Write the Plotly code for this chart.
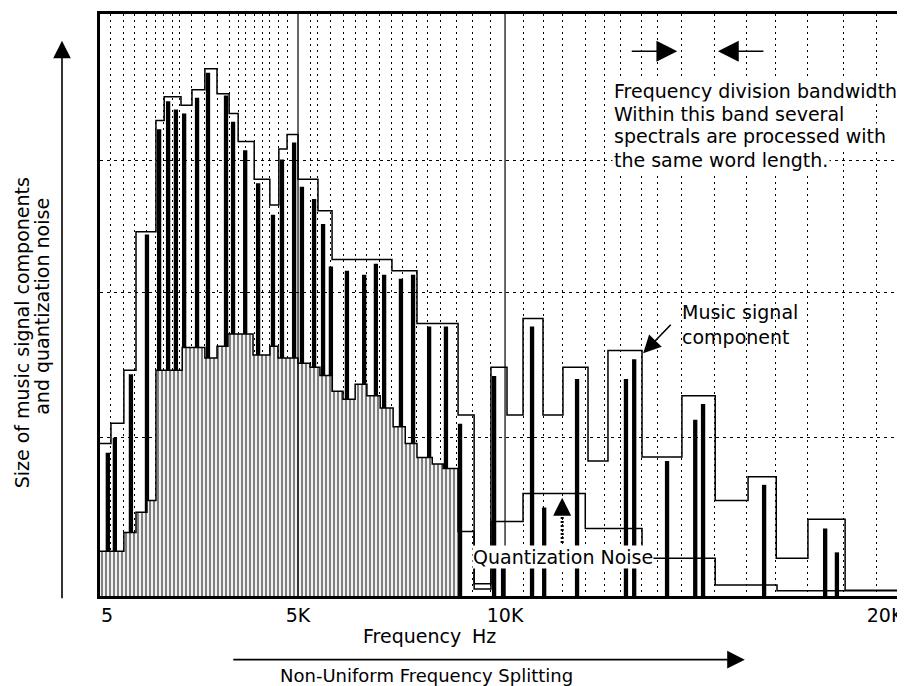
import plotly.graph_objects as go

# ---------------- data (frequency axis in kHz-like schematic units, size 0..100) -------------
env_edges = [0, 0.28, 0.61, 0.92, 1.43, 1.64, 2.07, 2.35, 2.68, 2.99, 3.30, 3.53, 3.94, 4.34,
             4.57, 4.78, 5.06, 5.57, 5.93, 7.46, 8.10, 9.15, 9.56, 9.99, 10.40, 10.81, 11.32,
             11.83, 12.47, 12.98, 13.85, 14.87, 15.72, 16.56, 17.28, 18.09, 19.04, 20.57]
env_levels = [26.2, 29.7, 38.8, 62.6, 81.7, 85.8, 84.3, 87.0, 90.6, 86.3, 82.9, 78.1, 71.6,
              67.2, 76.8, 79.3, 71.6, 66.2, 57.8, 55.9, 46.8, 31.1, 2.1, 39.3, 31.1, 47.7,
              31.1, 39.3, 23.2, 42.2, 23.9, 34.4, 16.4, 20.5, 6.5, 13.2, 1.0]

noise_edges = [0, 0.61, 0.92, 1.20, 1.43, 2.10, 2.68, 2.99, 3.27, 3.91, 4.34, 4.55, 5.06, 5.37,
               5.62, 5.93, 6.21, 6.52, 6.82, 7.16, 7.49, 7.80, 8.10, 8.49, 8.77, 9.15, 9.56,
               9.99, 10.81, 12.40, 13.85, 15.72, 17.30, 20.57]
noise_levels = [7.7, 10.9, 14.4, 16.4, 38.8, 42.7, 40.9, 42.9, 45.0, 41.4, 42.9, 40.9, 40.0,
                39.3, 37.9, 35.2, 33.8, 36.4, 34.4, 32.3, 29.1, 26.2, 23.8, 22.7, 21.9, 11.1,
                1.2, 12.8, 17.6, 11.6, 6.5, 1.9, 0.9]
hatched_bands = 25  # noise bands drawn with dense hatching (low-frequency region)

comp_freq = [0.13, 0.20, 0.38, 0.79, 1.20, 1.51, 1.74, 1.94, 2.15, 2.48, 2.76, 3.02, 3.22,
             3.40, 3.71, 4.04, 4.42, 4.65, 4.96, 5.16, 5.47, 5.70, 5.90, 6.11, 6.31, 6.75,
             7.05, 7.26, 7.69, 8.00, 8.23, 8.41, 8.64, 8.84, 9.20, 10.07, 10.30, 11.04, 11.35,
             12.19, 13.44, 13.65, 14.49, 15.21, 15.41, 16.97, 18.53, 18.83]
comp_size = [7.7, 24.6, 27.2, 38.1, 62.1, 80.2, 85.0, 83.6, 82.9, 85.6, 89.9, 22.6, 86.0,
             81.5, 76.6, 70.9, 65.5, 75.0, 77.9, 70.3, 68.2, 63.9, 56.6, 24.6, 55.9, 55.2,
             57.1, 55.2, 54.5, 55.2, 14.5, 46.3, 18.5, 46.3, 29.6, 37.8, 5.0, 46.3, 15.2,
             37.3, 37.3, 40.7, 23.2, 30.3, 33.0, 19.1, 11.6, 7.5]

grid_freq = [0.26, 0.59, 0.89, 1.20, 1.43, 1.61, 1.84, 2.04, 2.35, 2.68, 2.99, 3.30, 3.53, 3.71,
             3.94, 4.14, 4.34, 4.57, 4.78, 5.37, 5.57, 5.90, 6.21, 6.52, 6.82, 7.13, 7.46, 7.74,
             8.08, 8.38, 8.69, 9.12, 9.53, 9.97, 10.81, 11.32, 11.83, 12.40, 12.88, 13.29,
             13.83, 14.24, 14.85, 15.69, 16.51, 17.25, 18.09, 18.99, 19.83]
grid_size = [27.2, 52.1, 74.9]

tick_freq = [0.18, 5.06, 10.35, 20.06]
tick_text = ["5", "5K", "10K", "20K"]
solid_marks = [5.06, 10.35]

note_lines = ["Frequency division bandwidth", "Within this band several",
              "spectrals are processed with", "the same word length."]
note_line_y = [86.8, 82.9, 79.0, 75.0]

X_MAX = 20.57
FONT = "DejaVu Sans"

fig = go.Figure()

# hatched quantization-noise area
hx = noise_edges[:hatched_bands + 1]
hy = noise_levels[:hatched_bands] + [noise_levels[hatched_bands - 1]]
fig.add_trace(go.Scatter(x=hx, y=hy, mode="lines", line=dict(width=0, shape="hv"),
                         fill="tozeroy",
                         fillpattern=dict(shape="|", size=4, solidity=0.55,
                                          fgcolor="black", bgcolor="white"),
                         hoverinfo="skip"))

# solid reference lines at 5K and 10K
sx, sy = [], []
for f in solid_marks:
    sx += [f, f, None]
    sy += [0, 100, None]
fig.add_trace(go.Scatter(x=sx, y=sy, mode="lines", line=dict(color="black", width=1.2)))

# envelope (word-length bands)
fig.add_trace(go.Scatter(x=env_edges, y=env_levels + [env_levels[-1]], mode="lines",
                         line=dict(color="black", width=1.5, shape="hv")))
# quantization noise step line
fig.add_trace(go.Scatter(x=noise_edges, y=noise_levels + [noise_levels[-1]], mode="lines",
                         line=dict(color="black", width=1.5, shape="hv")))
# music signal components
fig.add_trace(go.Bar(x=comp_freq, y=comp_size, width=0.11,
                     marker=dict(color="black", line=dict(width=0))))

# dotted shaft of the quantization-noise arrow
fig.add_trace(go.Scatter(x=[11.81, 11.81], y=[9.1, 15.0], mode="lines",
                         line=dict(color="black", width=3, dash="2px,2px")))

anns = []
tf = dict(family=FONT, size=19, color="black")
arrow = dict(showarrow=True, text="", arrowhead=2, arrowsize=2.2, arrowwidth=1.6,
             arrowcolor="black")
# top-right bandwidth arrows
anns.append(dict(x=14.75, y=93.6, xref="x", yref="y", ax=-47, ay=0,
                 **{**arrow, "arrowsize": 2.6}))
anns.append(dict(x=15.79, y=93.6, xref="x", yref="y", ax=47, ay=0,
                 **{**arrow, "arrowsize": 2.6}))
for line, ly in zip(note_lines, note_line_y):
    anns.append(dict(x=13.08, y=ly, xref="x", yref="y", xanchor="left", yanchor="middle",
                     align="left", showarrow=False, bgcolor="white", borderpad=1, font=tf,
                     text=line))
# music signal component
anns.append(dict(x=14.82, y=51.0, xref="x", yref="y", xanchor="left", yanchor="top", align="left",
                 showarrow=False, font=tf, text="Music signal<br>component"))
anns.append(dict(x=13.88, y=41.7, xref="x", yref="y", ax=29, ay=-30, **arrow))
# quantization noise
anns.append(dict(x=11.83, y=6.7, xref="x", yref="y", xanchor="center", yanchor="middle",
                 showarrow=False, bgcolor="white", borderpad=0, font=tf,
                 text="Quantization Noise"))
anns.append(dict(x=11.81, y=16.9, xref="x", yref="y", ax=0, ay=14,
                 **{**arrow, "arrowwidth": 2, "arrowsize": 1.8}))
# y axis label + arrow
anns.append(dict(x=-0.0969, y=0.453, xref="paper", yref="paper", xanchor="center",
                 yanchor="middle", textangle=-90, showarrow=False, font=tf,
                 text="Size of music signal components"))
anns.append(dict(x=-0.072, y=0.497, xref="paper", yref="paper", xanchor="center",
                 yanchor="middle", textangle=-90, showarrow=False, font=tf,
                 text="and quantization noise"))
anns.append(dict(x=-0.0472, y=0.954, xref="paper", yref="paper", ax=0, ay=559, **arrow))
# x axis captions
anns.append(dict(x=0.3876, y=-0.0684, xref="paper", yref="paper", xanchor="center",
                 yanchor="middle", showarrow=False, font=tf, text="Frequency"))
anns.append(dict(x=0.477, y=-0.0684, xref="paper", yref="paper", xanchor="center",
                 yanchor="middle", showarrow=False, font=tf, text="Hz"))
anns.append(dict(x=0.801, y=-0.1094, xref="paper", yref="paper", ax=-513, ay=0, **arrow))
anns.append(dict(x=0.405, y=-0.1368, xref="paper", yref="paper", xanchor="center",
                 yanchor="middle", showarrow=False, font=dict(family=FONT, size=18, color="black"),
                 text="Non-Uniform Frequency Splitting"))

# the page body adds an 8px offset, so margins are reduced by 8px on the left/top
fig.update_layout(
    width=905, height=686, margin=dict(l=92, r=8, t=3, b=98),
    paper_bgcolor="white", plot_bgcolor="white", showlegend=False, barmode="overlay",
    font=dict(family=FONT, color="black"),
    annotations=anns,
    xaxis=dict(range=[0, X_MAX], tickmode="array", tickvals=tick_freq, ticktext=tick_text,
               showgrid=False, ticks="", zeroline=False, tickfont=dict(size=19),
               showline=True, linecolor="black", linewidth=3, mirror=True,
               minor=dict(tickmode="array", tickvals=grid_freq, showgrid=True, gridcolor="black",
                          griddash="2px,4px", gridwidth=1, ticks="")),
    yaxis=dict(range=[0, 100], tickmode="array", tickvals=grid_size, showticklabels=False,
               showgrid=True, gridcolor="black", griddash="3px,4px", gridwidth=1, ticks="",
               zeroline=False, showline=True, linecolor="black", linewidth=3),
)

fig.write_html("out.html")
